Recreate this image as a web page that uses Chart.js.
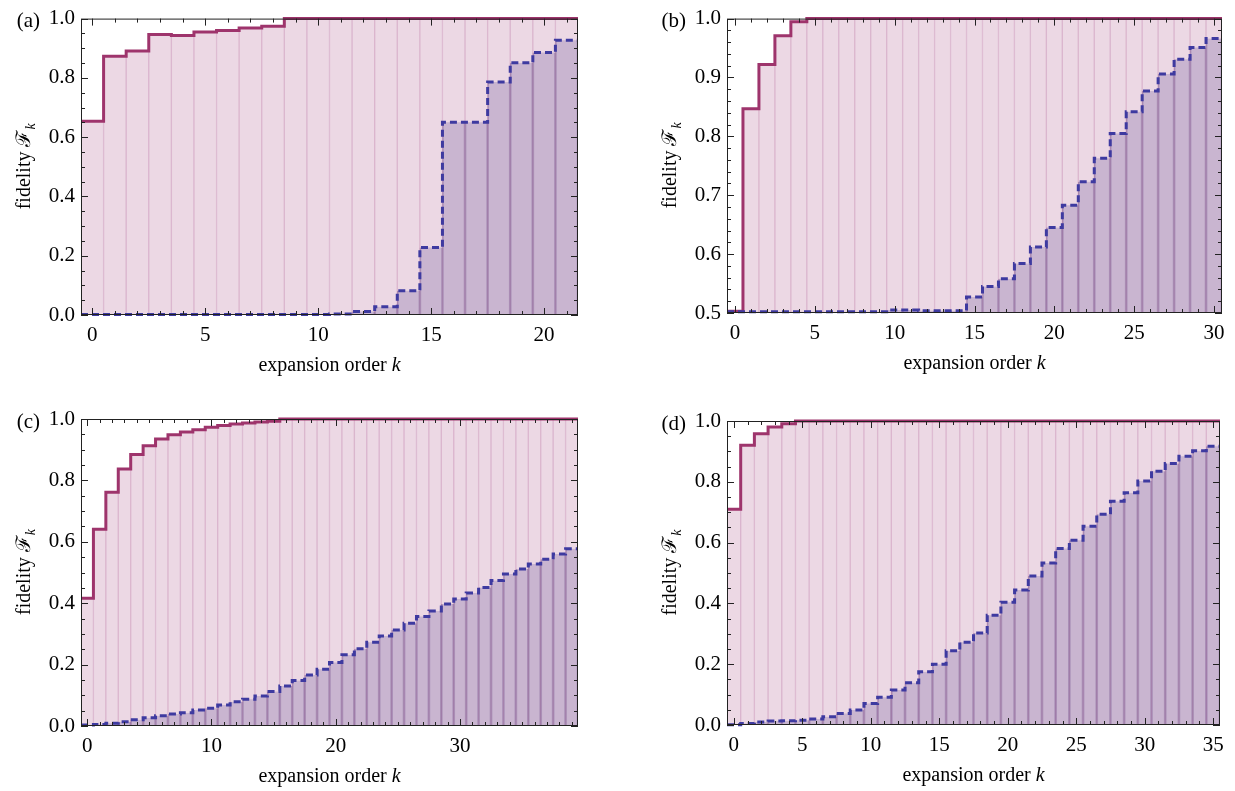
<!DOCTYPE html>
<html>
<head>
<meta charset="utf-8">
<script src="https://cdn.jsdelivr.net/npm/chart.js@4.4.0/dist/chart.umd.min.js"></script>
<style>
  body { margin: 0; background: #fff; }
  .panel { position: absolute; }
</style>
</head>
<body>
<div class="panel" style="left:0px;top:0px"><canvas id="ca" width="618" height="390"></canvas></div>
<div class="panel" style="left:618px;top:0px"><canvas id="cb" width="617" height="390"></canvas></div>
<div class="panel" style="left:0px;top:395px"><canvas id="cc" width="618" height="396"></canvas></div>
<div class="panel" style="left:618px;top:395px"><canvas id="cd" width="617" height="396"></canvas></div>
<script>
// expansion order k for each panel
function range(n) { var r = []; for (var i = 0; i < n; i++) r.push(i); return r }
const kA = range(22)
const kB = range(31)
const kC = range(40)
const kD = range(36)

// fidelity, solid (upper) curve
const solidA = [0.654, 0.873, 0.891, 0.946, 0.943, 0.955, 0.960, 0.968, 0.974,
  1, 1, 1, 1, 1, 1, 1, 1, 1, 1, 1, 1, 1]
const solidB = [0.503, 0.847, 0.922, 0.971, 0.9945,
  1, 1, 1, 1, 1, 1, 1, 1, 1, 1, 1, 1, 1, 1, 1, 1, 1, 1, 1, 1, 1, 1, 1, 1, 1, 1]
const solidC = [0.416, 0.641, 0.761, 0.837, 0.884, 0.913, 0.935, 0.949, 0.958, 0.965,
  0.973, 0.979, 0.984, 0.987, 0.990, 0.993,
  1, 1, 1, 1, 1, 1, 1, 1, 1, 1, 1, 1, 1, 1, 1, 1, 1, 1, 1, 1, 1, 1, 1, 1]
const solidD = [0.710, 0.920, 0.958, 0.980, 0.991,
  1, 1, 1, 1, 1, 1, 1, 1, 1, 1, 1, 1, 1, 1, 1, 1, 1, 1, 1, 1, 1, 1, 1, 1, 1, 1, 1, 1, 1, 1, 1]

// fidelity, dashed (lower) curve
const dashedA = [0.002, 0.002, 0.002, 0.002, 0.002, 0.002, 0.002, 0.002, 0.002, 0.002, 0.002, 0.003,
  0.012, 0.028, 0.082, 0.228, 0.650, 0.650, 0.786, 0.851, 0.886, 0.927]
const dashedB = [0.502, 0.502, 0.502, 0.502, 0.502, 0.502, 0.502, 0.502, 0.502, 0.502,
  0.505, 0.505, 0.504, 0.504, 0.504, 0.527, 0.545, 0.558, 0.584, 0.612,
  0.645, 0.683, 0.723, 0.763, 0.805, 0.842, 0.877, 0.906, 0.931, 0.951, 0.966]
const dashedC = [0.003, 0.005, 0.009, 0.014, 0.020, 0.027, 0.033, 0.039, 0.043, 0.052,
  0.058, 0.068, 0.079, 0.087, 0.098, 0.112, 0.130, 0.148, 0.166, 0.185,
  0.207, 0.232, 0.252, 0.273, 0.293, 0.313, 0.335, 0.357, 0.375, 0.397,
  0.414, 0.433, 0.451, 0.474, 0.495, 0.511, 0.528, 0.543, 0.560, 0.577]
const dashedD = [0.001, 0.005, 0.010, 0.013, 0.014, 0.016, 0.020, 0.027, 0.038, 0.049,
  0.071, 0.091, 0.115, 0.139, 0.175, 0.200, 0.244, 0.272, 0.303, 0.361,
  0.404, 0.444, 0.490, 0.533, 0.581, 0.608, 0.654, 0.693, 0.736, 0.764,
  0.803, 0.835, 0.860, 0.884, 0.902, 0.917]

// tick labels
const xTicksA = [0, 5, 10, 15, 20]
const xTicksB = [0, 5, 10, 15, 20, 25, 30]
const xTicksC = [0, 10, 20, 30]
const xTicksD = [0, 5, 10, 15, 20, 25, 30, 35]
const yTicks01 = [0, 0.2, 0.4, 0.6, 0.8, 1.0]
const yTicksB = [0.5, 0.6, 0.7, 0.8, 0.9, 1.0]

const SERIF = "'Liberation Serif', 'Times New Roman', serif"
const pinkFill = 'rgb(236, 216, 228)'
const pinkEdge = 'rgb(219, 182, 206)'
const purpleFill = 'rgba(160, 140, 185, 0.45)'
const purpleEdge = 'rgba(130, 95, 150, 0.55)'
const solidColor = 'rgb(158, 52, 108)'
const dashColor = 'rgb(62, 58, 160)'

function stepPoints(ks, vals) {
    var pts = []
    for (var i = 0; i < ks.length; i++) {
        pts.push({x: ks[i] - 0.5, y: vals[i]})
        pts.push({x: ks[i] + 0.5, y: vals[i]})
    }
    return pts
}

// frame, inward ticks, axis titles, panel letter
const decor = {
    id: 'decor',
    afterDatasetsDraw(chart, args, o) {
        const ctx = chart.ctx, a = chart.chartArea
        const xs = chart.scales.x, ys = chart.scales.y
        ctx.save()
        ctx.strokeStyle = '#222'
        ctx.lineWidth = 1
        ctx.strokeRect(a.left + 0.5, a.top + 0.5, a.right - a.left - 1, a.bottom - a.top - 1)
        ctx.beginPath()
        // x ticks
        for (var v = Math.ceil(xs.min); v <= xs.max; v += 1) {
            var major = o.xMajor.indexOf(v) >= 0
            var len = major ? 7 : 4
            var px = Math.round(xs.getPixelForValue(v)) + 0.5
            ctx.moveTo(px, a.bottom); ctx.lineTo(px, a.bottom - len)
            ctx.moveTo(px, a.top); ctx.lineTo(px, a.top + len)
        }
        // y ticks
        var n = Math.round((ys.max - ys.min) / o.yMinor)
        for (var i = 0; i <= n; i++) {
            var yv = ys.min + i * o.yMinor
            var maj = o.yMajor.some(t => Math.abs(t - yv) < 1e-6)
            var l = maj ? 7 : 4
            var py = Math.round(ys.getPixelForValue(yv)) + 0.5
            ctx.moveTo(a.left, py); ctx.lineTo(a.left + l, py)
            ctx.moveTo(a.right, py); ctx.lineTo(a.right - l, py)
        }
        ctx.stroke()
        ctx.restore()
    },
    afterDraw(chart, args, o) {
        const ctx = chart.ctx, a = chart.chartArea
        ctx.save()
        ctx.fillStyle = '#000'
        ctx.textBaseline = 'middle'
        // panel letter
        ctx.font = '21px ' + SERIF
        ctx.textAlign = 'right'
        ctx.fillText(o.letter, a.left - 41, a.top + 3)
        // x title
        var t1 = 'expansion order ', t2 = 'k'
        ctx.font = '20px ' + SERIF
        var w1 = ctx.measureText(t1).width
        ctx.font = 'italic 20px ' + SERIF
        var w2 = ctx.measureText(t2).width
        var x0 = (a.left + a.right) / 2 - (w1 + w2) / 2
        var yT = a.bottom + 51
        ctx.textAlign = 'left'
        ctx.font = '20px ' + SERIF
        ctx.fillText(t1, x0, yT)
        ctx.font = 'italic 20px ' + SERIF
        ctx.fillText(t2, x0 + w1, yT)
        // y title
        ctx.translate(a.left - 56, (a.top + a.bottom) / 2)
        ctx.rotate(-Math.PI / 2)
        var s1 = 'fidelity ', s2 = '\u2131', s3 = 'k'
        ctx.font = '20px ' + SERIF
        var m1 = ctx.measureText(s1).width
        var m2 = ctx.measureText(s2).width
        ctx.font = 'italic 14px ' + SERIF
        var m3 = ctx.measureText(s3).width
        var sx = -(m1 + m2 + m3) / 2
        ctx.textAlign = 'left'
        ctx.font = '20px ' + SERIF
        ctx.fillText(s1, sx, 0)
        ctx.fillText(s2, sx + m1, 0)
        ctx.font = 'italic 14px ' + SERIF
        ctx.fillText(s3, sx + m1 + m2 + 1, 6)
        ctx.restore()
    }
}

function draw_panel(id, ks, solid, dashed, xTicks, yTicks, yMin, yMinor, letter, box) {
    const tickFont = {family: SERIF, size: 21}
    new Chart(document.getElementById(id), {
        type: 'bar',
        data: {
            datasets: [
                {
                    type: 'line', data: stepPoints(ks, dashed), borderColor: dashColor,
                    borderWidth: 3, borderDash: [7, 4], pointRadius: 0, tension: 0,
                    borderCapStyle: 'butt', clip: 4, order: 1
                },
                {
                    type: 'line', data: stepPoints(ks, solid), borderColor: solidColor,
                    borderWidth: 3, pointRadius: 0, tension: 0, clip: 4, order: 2
                },
                {
                    data: ks.map((k, i) => ({x: k, y: dashed[i]})), backgroundColor: purpleFill,
                    borderColor: purpleEdge, borderWidth: {left: 1, right: 1, top: 0, bottom: 0},
                    borderSkipped: false, grouped: false, barPercentage: 1, categoryPercentage: 1, order: 3
                },
                {
                    data: ks.map((k, i) => ({x: k, y: solid[i]})), backgroundColor: pinkFill,
                    borderColor: pinkEdge, borderWidth: {left: 1, right: 1, top: 0, bottom: 0},
                    borderSkipped: false, grouped: false, barPercentage: 1, categoryPercentage: 1, order: 4
                }
            ]
        },
        options: {
            responsive: false,
            animation: false,
            layout: {padding: {left: 0, top: box.top, right: box.right, bottom: 0}},
            plugins: {
                legend: {display: false},
                tooltip: {enabled: false},
                decor: {letter: letter, xMajor: xTicks, yMajor: yTicks, yMinor: yMinor}
            },
            scales: {
                x: {
                    type: 'linear', min: ks[0] - 0.5, max: ks[ks.length - 1] + 0.5, offset: false,
                    grid: {display: false, drawTicks: false}, border: {display: false},
                    afterBuildTicks: s => { s.ticks = xTicks.map(v => ({value: v})) },
                    afterFit: s => { s.height = box.xH },
                    ticks: {font: tickFont, color: '#000', padding: 8, maxRotation: 0, autoSkip: false,
                        callback: v => String(v)}
                },
                y: {
                    type: 'linear', min: yMin, max: 1,
                    grid: {display: false, drawTicks: false}, border: {display: false},
                    afterBuildTicks: s => { s.ticks = yTicks.map(v => ({value: v})) },
                    afterFit: s => { s.width = box.yW },
                    ticks: {font: tickFont, color: '#000', padding: 6,
                        callback: v => Number(v).toFixed(1)}
                }
            }
        },
        plugins: [decor]
    })
}

draw_panel('ca', kA, solidA, dashedA, xTicksA, yTicks01, 0, 0.05, '(a)', {yW: 81, xH: 75, top: 8, right: 40})
draw_panel('cb', kB, solidB, dashedB, xTicksB, yTicksB, 0.5, 0.02, '(b)', {yW: 109, xH: 77, top: 9, right: 13})
draw_panel('cc', kC, solidC, dashedC, xTicksC, yTicks01, 0, 0.05, '(c)', {yW: 81, xH: 65, top: 24, right: 40})
draw_panel('cd', kD, solidD, dashedD, xTicksD, yTicks01, 0, 0.05, '(d)', {yW: 109, xH: 66, top: 26, right: 15})
</script>
</body>
</html>
